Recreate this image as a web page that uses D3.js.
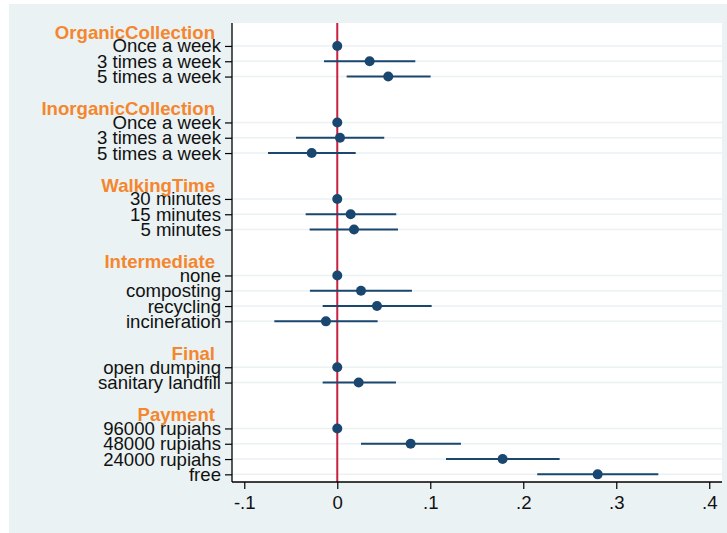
<!DOCTYPE html>
<html>
<head>
<meta charset="utf-8">
<script src="https://cdn.jsdelivr.net/npm/d3@7"></script>
<style>
  html, body { margin: 0; padding: 0; background: #ffffff; }
  svg { display: block; }
  text { font-family: "Liberation Sans", Arial, sans-serif; }
</style>
</head>
<body>
<svg id="chart" width="727" height="533"></svg>
<script>
// ---- Data ----
const groups = ["OrganicCollection", "InorganicCollection", "WalkingTime", "Intermediate", "Final", "Payment"];
const groupLabels = [
  ["Once a week", "3 times a week", "5 times a week"],
  ["Once a week", "3 times a week", "5 times a week"],
  ["30 minutes", "15 minutes", "5 minutes"],
  ["none", "composting", "recycling", "incineration"],
  ["open dumping", "sanitary landfill"],
  ["96000 rupiahs", "48000 rupiahs", "24000 rupiahs", "free"]
];
const groupEstimates = [
  [0, 0.0348, 0.0548],
  [0, 0.0029, -0.0275],
  [0, 0.0144, 0.0180],
  [0, 0.0255, 0.0427, -0.0122],
  [0, 0.0230],
  [0, 0.0789, 0.1778, 0.2800]
];
const groupLower = [
  [null, -0.0143, 0.0101],
  [null, -0.0444, -0.0745],
  [null, -0.0340, -0.0297],
  [null, -0.0294, -0.0157, -0.0677],
  [null, -0.0157],
  [null, 0.0255, 0.1169, 0.2150]
];
const groupUpper = [
  [null, 0.0839, 0.1004],
  [null, 0.0505, 0.0198],
  [null, 0.0634, 0.0653],
  [null, 0.0803, 0.1015, 0.0434],
  [null, 0.0631],
  [null, 0.1330, 0.2391, 0.3452]
];
const xTicks = [-0.1, 0, 0.1, 0.2, 0.3, 0.4];
const xTickLabels = ["-.1", "0", ".1", ".2", ".3", ".4"];

// ---- Build rows (header slot, items, gap slot) ----
const headers = [];
const items = [];
let slot = 0;
groups.forEach((g, gi) => {
  headers.push({ label: g, slot: slot });
  slot++;
  groupLabels[gi].forEach((lab, li) => {
    items.push({
      label: lab, slot: slot,
      est: groupEstimates[gi][li],
      lo: groupLower[gi][li],
      hi: groupUpper[gi][li]
    });
    slot++;
  });
  if (gi < groups.length - 1) slot++;
});
const lastSlot = slot - 1;

// ---- Layout ----
const W = 727, H = 533;
const plot = { left: 232, right: 722, top: 23, bottom: 482 };
const navy = "#1a476f";
const panelColor = "#eaf2f3";
const fs = 18.6;

const svg = d3.select("#chart");

svg.append("rect").attr("x", 9).attr("y", 4).attr("width", W - 9).attr("height", H - 4)
  .attr("fill", panelColor);
svg.append("rect").attr("x", plot.left).attr("y", plot.top)
  .attr("width", plot.right - plot.left).attr("height", plot.bottom - plot.top)
  .attr("fill", "#ffffff");

const x = d3.scaleLinear().domain([-0.1132, 0.4137]).range([plot.left, plot.right]);
const y = d3.scaleLinear().domain([-0.5, lastSlot + 0.5]).range([plot.top, plot.bottom]);

// gridlines
svg.append("g").selectAll("line").data(items).join("line")
  .attr("x1", plot.left).attr("x2", plot.right)
  .attr("y1", d => y(d.slot)).attr("y2", d => y(d.slot))
  .attr("stroke", panelColor).attr("stroke-width", 1.5);

// zero line
svg.append("line")
  .attr("x1", x(0)).attr("x2", x(0)).attr("y1", plot.top).attr("y2", plot.bottom)
  .attr("stroke", "#c8203f").attr("stroke-width", 2);

// CI lines
svg.append("g").selectAll("line").data(items.filter(d => d.lo !== null)).join("line")
  .attr("x1", d => x(d.lo)).attr("x2", d => x(d.hi))
  .attr("y1", d => y(d.slot)).attr("y2", d => y(d.slot))
  .attr("stroke", navy).attr("stroke-width", 2);

// points
svg.append("g").selectAll("circle").data(items).join("circle")
  .attr("cx", d => x(d.est)).attr("cy", d => y(d.slot)).attr("r", 5)
  .attr("fill", navy);

// Y axis
const yAxis = d3.axisLeft(y)
  .tickValues(items.map(d => d.slot))
  .tickFormat(s => items.find(d => d.slot === s).label)
  .tickSizeOuter(0).tickSize(7).tickPadding(4);
const gy = svg.append("g").attr("transform", `translate(${plot.left},0)`).call(yAxis);
gy.select(".domain").attr("stroke", "#000").attr("stroke-width", 1.3)
  .attr("d", `M0,${plot.top}V${plot.bottom}`);
gy.selectAll(".tick line").attr("stroke", "#000").attr("stroke-width", 1.2);
gy.selectAll(".tick text").attr("font-size", fs).attr("fill", "#111")
  .attr("font-family", "Liberation Sans, Arial, sans-serif");

// headers
svg.append("g").selectAll("text").data(headers).join("text")
  .attr("x", 215).attr("y", d => y(d.slot) + 1.5)
  .attr("dy", "0.35em")
  .attr("text-anchor", "end")
  .attr("font-size", fs).attr("font-weight", "bold")
  .attr("fill", "#f5862e")
  .text(d => d.label);

// X axis
const xAxis = d3.axisBottom(x).tickValues(xTicks)
  .tickFormat((v, i) => xTickLabels[i]).tickSizeOuter(0).tickSize(7).tickPadding(7);
const gx = svg.append("g").attr("transform", `translate(0,${plot.bottom})`).call(xAxis);
gx.select(".domain").attr("stroke", "#000").attr("stroke-width", 1.3)
  .attr("d", `M${plot.left},0H${plot.right}`);
gx.selectAll(".tick line").attr("stroke", "#000").attr("stroke-width", 1.2);
gx.selectAll(".tick text").attr("font-size", fs).attr("fill", "#111")
  .attr("font-family", "Liberation Sans, Arial, sans-serif");
</script>
</body>
</html>
